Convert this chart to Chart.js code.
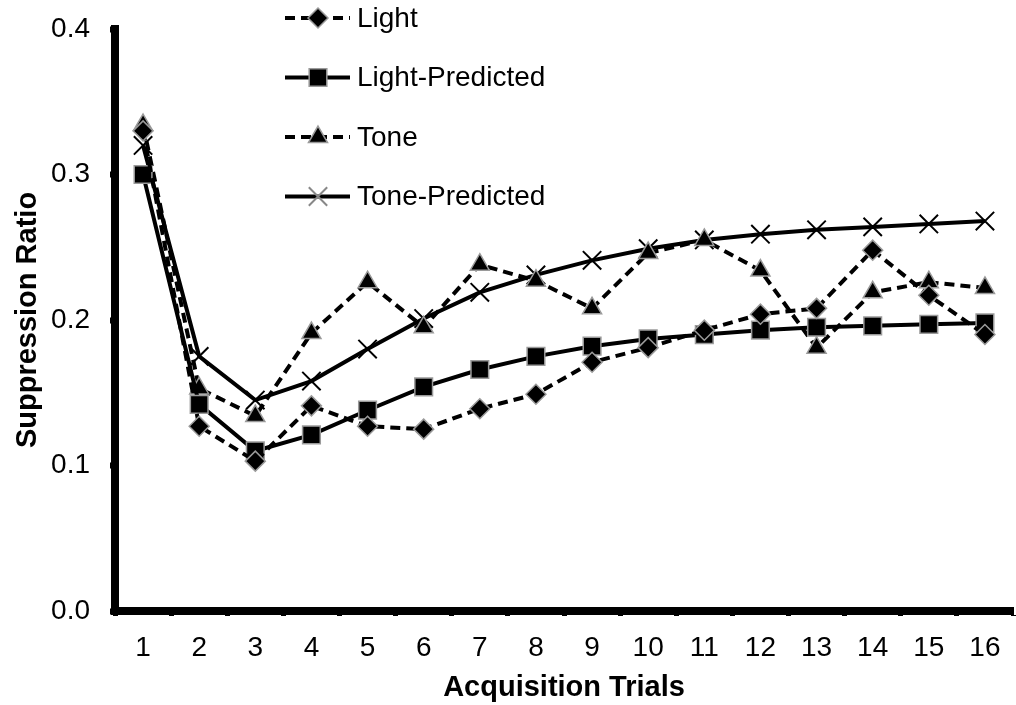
<!DOCTYPE html>
<html>
<head>
<meta charset="utf-8">
<script src="https://cdn.jsdelivr.net/npm/chart.js@4.4.1/dist/chart.umd.min.js"></script>
<style>
html,body{margin:0;padding:0;background:#fff;}
#wrap{width:1016px;height:705px;}
</style>
</head>
<body>
<div id="wrap"><canvas id="c" width="1016" height="705"></canvas></div>
<script>
const trials = ['1','2','3','4','5','6','7','8','9','10','11','12','13','14','15','16'];
const light = [0.330,0.127,0.103,0.141,0.127,0.125,0.139,0.149,0.171,0.181,0.193,0.204,0.208,0.248,0.217,0.190];
const lightPredicted = [0.300,0.142,0.110,0.121,0.138,0.154,0.166,0.175,0.182,0.187,0.190,0.193,0.195,0.196,0.197,0.198];
const tone = [0.334,0.153,0.134,0.191,0.226,0.195,0.238,0.227,0.208,0.246,0.255,0.234,0.181,0.219,0.226,0.222];
const tonePredicted = [0.320,0.175,0.145,0.158,0.180,0.201,0.219,0.231,0.241,0.249,0.255,0.259,0.262,0.264,0.266,0.268];
const yTicks = [0.0,0.1,0.2,0.3,0.4];
const seriesNames = ['Light','Light-Predicted','Tone','Tone-Predicted'];

const FONT = "'Liberation Sans', Arial, sans-serif";

function ds(label, data, style, radius, dash){
  const isCross = style === 'crossRot';
  return {
    label, data,
    borderColor:'#000', borderWidth:4, borderDash:dash,
    pointStyle:style, pointRadius:radius, pointHoverRadius:radius,
    pointBackgroundColor:'#000',
    pointBorderColor: isCross ? '#000' : '#9a9a9a',
    pointBorderWidth: isCross ? 2 : 1.5,
    tension:0, fill:false
  };
}

const legendPlugin = {
  id:'customLegend',
  afterDraw(chart){
    const ctx = chart.ctx;
    ctx.save();
    chart.data.datasets.forEach((d,i)=>{
      const y = 18 + i*59.5;
      ctx.strokeStyle = '#000';
      ctx.lineWidth = 4;
      ctx.setLineDash(d.borderDash || []);
      ctx.beginPath(); ctx.moveTo(285,y); ctx.lineTo(350,y); ctx.stroke();
      ctx.setLineDash([]);
      ctx.fillStyle = '#000';
      ctx.strokeStyle = d.pointBorderColor;
      ctx.lineWidth = d.pointBorderWidth;
      if (d.pointStyle === 'crossRot') ctx.strokeStyle = '#888';
      Chart.helpers.drawPoint(ctx, {pointStyle:d.pointStyle, rotation:0, radius:d.pointRadius, borderWidth:d.pointBorderWidth}, 318, y);
      ctx.fillStyle = '#000';
      ctx.font = "28px " + FONT;
      ctx.textBaseline = 'middle';
      ctx.textAlign = 'left';
      ctx.fillText(d.label, 357, y+1);
    });
    ctx.restore();
  }
};

new Chart(document.getElementById('c'), {
  type:'line',
  data:{
    labels:trials,
    datasets:[
      ds(seriesNames[0], light, 'rectRot', 10, [10,6]),
      ds(seriesNames[1], lightPredicted, 'rect', 12.5, []),
      ds(seriesNames[2], tone, 'triangle', 11, [10,6]),
      ds(seriesNames[3], tonePredicted, 'crossRot', 13, [])
    ]
  },
  options:{
    responsive:false, animation:false,
    layout:{autoPadding:false, padding:{left:0,right:3,top:29,bottom:0}},
    plugins:{legend:{display:false}, tooltip:{enabled:false}},
    scales:{
      x:{
        offset:true,
        grid:{offset:true, drawOnChartArea:false, drawTicks:true, tickLength:5, tickWidth:5, tickColor:'#000', color:'#000'},
        border:{display:true, color:'#000', width:8},
        ticks:{color:'#000', font:{family:FONT, size:28}, padding:15, maxRotation:0, autoSkip:false},
        title:{display:true, text:'Acquisition Trials', color:'#000', font:{family:FONT, size:29, weight:'bold'}, padding:{top:0,bottom:0}},
        afterFit(s){ s.height = 94; s.paddingLeft = 0; s.paddingRight = 0; }
      },
      y:{
        min:0, max:0.4,
        afterBuildTicks(s){ s.ticks = yTicks.map(v=>({value:v})); },
        grid:{drawOnChartArea:false, drawTicks:true, tickLength:5, tickWidth:6, tickColor:'#000', color:'#000'},
        border:{display:true, color:'#000', width:8},
        ticks:{color:'#000', font:{family:FONT, size:28}, padding:20, callback:v=>v.toFixed(1)},
        title:{display:true, text:'Suppression Ratio', color:'#000', font:{family:FONT, size:29, weight:'bold'}, padding:{top:11,bottom:6}},
        afterFit(s){ s.width = 115; s.paddingTop = 0; s.paddingBottom = 0; }
      }
    }
  },
  plugins:[legendPlugin]
});
</script>
</body>
</html>
